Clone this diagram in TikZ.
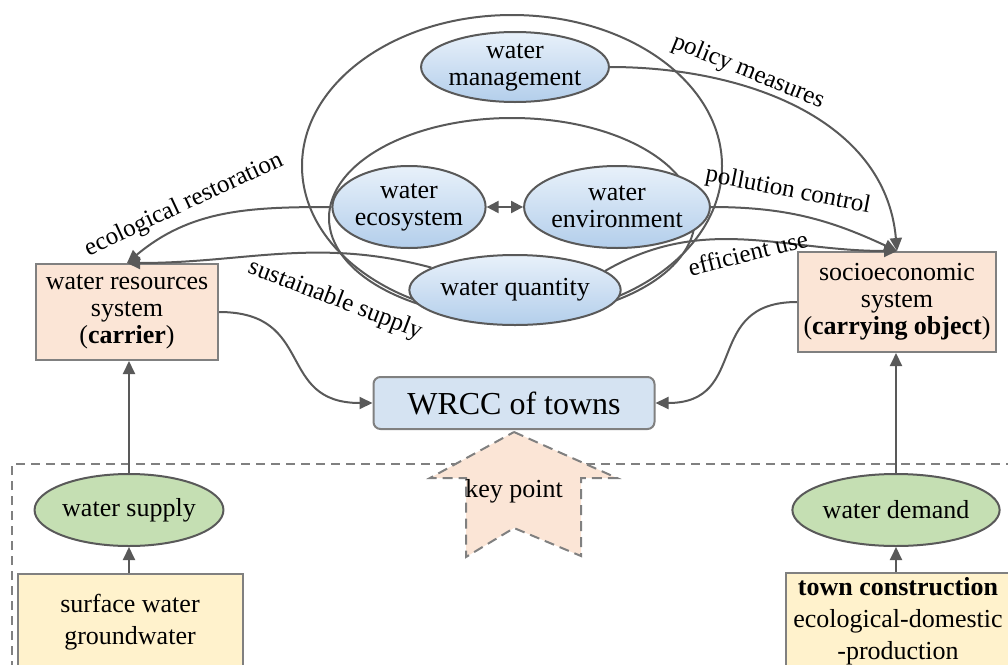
\documentclass[tikz,border=0pt]{standalone}
\usepackage{fontspec}
\setmainfont{Liberation Serif}
\usetikzlibrary{arrows.meta,shapes.geometric}
\definecolor{linegray}{HTML}{595959}
\definecolor{boxgray}{HTML}{808080}
\definecolor{peach}{HTML}{FBE5D6}
\definecolor{paleblue}{HTML}{D5E3F2}
\definecolor{ellblue}{HTML}{B3CEEB}
\definecolor{ellwhite}{HTML}{E8F1FA}
\definecolor{leafgreen}{HTML}{C5DFB3}
\definecolor{cream}{HTML}{FFF2CC}
\begin{document}
\begin{tikzpicture}[x=1pt, y=-1pt,
    every node/.style={font=\fontsize{26}{27}\selectfont, align=center, inner sep=0pt},
    line/.style={draw=linegray, line width=2pt},
    link/.style={line, -{Triangle[length=13pt,width=12pt]}},
    ring/.style={ellipse, draw=linegray, line width=2pt},
    bubble/.style={ellipse, draw=linegray, line width=2pt, top color=ellwhite, bottom color=ellblue},
    system/.style={draw=boxgray, line width=2pt, fill=peach, minimum width=182pt, minimum height=96pt},
    source/.style={ellipse, draw=linegray, line width=2pt, fill=leafgreen, minimum width=176pt, minimum height=72pt},
    base/.style={draw=boxgray, line width=2pt, fill=cream, minimum height=96pt, font=\fontsize{26}{32}\selectfont},
    tag/.style={font=\fontsize{25}{26}\selectfont}]
    \useasboundingbox (0,0) rectangle (1008,664);
    \clip (0,0) rectangle (1008,664);
    \node[ring, minimum width=420pt, minimum height=302pt] (outer) at (512,166) {};
    \node[ring, minimum width=366pt, minimum height=200pt] (inner) at (512,218) {};
    \node[bubble, minimum width=176pt, minimum height=70pt] (wm) at (515,67) {water\\management};
    \node[bubble, minimum width=152pt, minimum height=82pt] (wes) at (409,207) {water\\ecosystem};
    \node[bubble, minimum width=152pt, minimum height=82pt] (wen) at (617,207) {water\\environment};
    \node[bubble, minimum width=176pt, minimum height=70pt] (wq) at (515,290) {water quantity};
    \node[system] (wr) at (127,312) {water resources\\system\\(\textbf{carrier})};
    \node[system, minimum width=198pt, minimum height=100pt] (se) at (897,302) {socioeconomic\\system\\(\textbf{carrying object})};
    \node[draw=boxgray, line width=2pt, fill=paleblue, rounded corners=7pt, minimum width=281pt, minimum height=52pt,
        font=\fontsize{32}{34}\selectfont] (wrcc) at (514,403) {WRCC of towns};
    \draw[boxgray, line width=2pt, dash pattern=on 9pt off 6pt] (12,700) -- (12,464) -- (1020,464);
    \draw[boxgray, line width=2pt, dash pattern=on 10pt off 6pt, fill=peach]
        (514,432) -- (617,478) -- (581,478) -- (581,556) -- (514,528) -- (466,557) -- (466,478) -- (430,478) -- cycle;
    \node (kp) at (514,491) {key point};
    \node[source] (ws) at (129,510) {water supply};
    \node[source] (wd) at (896,510) {water demand};
    \node[base, minimum width=225pt] (sw) at (130,622) {surface water\\groundwater};
    \node[base, minimum width=224pt] (tc) at (898,621) {\textbf{town construction}\\ecological-domestic\\-production};
    \draw[link] (sw.north -| ws.south) -- (ws.south);
    \draw[link] (ws.north) -- (ws.north |- wr.south);
    \draw[link] (tc.north -| wd.south) -- (wd.south);
    \draw[link] (wd.north) -- (wd.north |- se.south);
    \draw[link] (wr.east) to[out=0, in=180, looseness=1.4] (wrcc.west);
    \draw[link] (se.west) to[out=180, in=0, looseness=1.4] (wrcc.east);
    \draw[line, {Triangle[length=12pt,width=12pt]}-{Triangle[length=12pt,width=12pt]}] (wes) -- (wen);
    \draw[link] (wm.east) to[out=0, in=95] (se.north);
    \draw[link] (wen.east) to[out=0, in=155] (se.north);
    \draw[link] (wq.12) to[out=30, in=180] (se.north);
    \draw[link] (wes.west) to[out=180, in=40] (wr.north);
    \draw[link] (wq.165) to[out=165, in=0] (wr.north);
    \node[tag, rotate=-22] (pm) at (748,72) {policy measures};
    \node[tag, rotate=-11] (pc) at (788,191) {pollution control};
    \node[tag, rotate=14] (eu) at (748,253) {efficient use};
    \node[tag, rotate=25] (er) at (184,205) {ecological restoration};
    \node[tag, rotate=-21] (ss) at (335,300) {sustainable supply};
\end{tikzpicture}
\end{document}
